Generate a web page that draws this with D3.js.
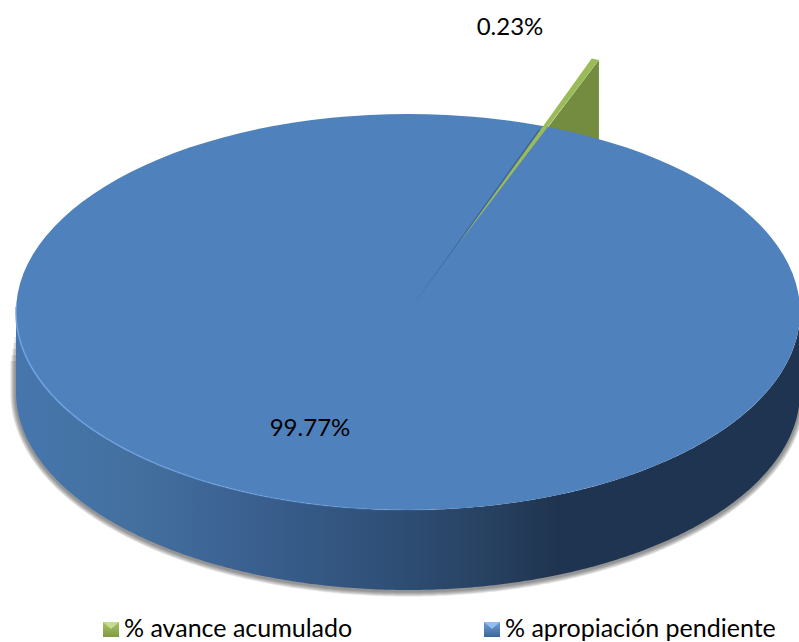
<!DOCTYPE html>
<html>
<head>
<meta charset="utf-8">
<style>
  html, body { margin: 0; padding: 0; background: #fff; }
  text { font-family: "Lato", "Open Sans", sans-serif; fill: #000; }
</style>
<script src="https://cdnjs.cloudflare.com/ajax/libs/d3/7.8.5/d3.min.js"></script>
</head>
<body>
<div id="chart"></div>
<script>
var categories = ["% avance acumulado", "% apropiación pendiente"];
var values = [0.23, 99.77];
var labels = ["0.23%", "99.77%"];

var width = 799, height = 642;
var cx = 408, cy = 312, rx = 392, tilt = 198 / 392, depth = 80;
// first slice starts here (radians clockwise from 12 o'clock)
var rotation = 0.351;
// the green slice sticks out past the rim in the original
var pull = 1.363;

var svg = d3.select("#chart").append("svg")
  .attr("width", width).attr("height", height)
  .style("display", "block");
var defs = svg.append("defs");

var pie = d3.pie().sort(null).startAngle(rotation).endAngle(rotation + 2 * Math.PI);
var slices = pie(values);
var green = slices[0];

function px(a, r) { return cx + r * Math.sin(a); }
function py(a, r) { return cy - r * tilt * Math.cos(a); }

// wall gradient, light on the left and dark on the right
var wallStops = [[0, "#4676ad"], [0.15, "#43709f"], [0.3, "#3a6090"], [0.49, "#2e4e75"], [0.62, "#263f5e"], [0.69, "#1f3450"], [1, "#1f3450"]];
var wallGrad = defs.append("linearGradient").attr("id", "wall")
  .attr("gradientUnits", "userSpaceOnUse")
  .attr("x1", cx - rx).attr("x2", cx + rx).attr("y1", 0).attr("y2", 0);
wallStops.forEach(function (s) {
  wallGrad.append("stop").attr("offset", s[0]).attr("stop-color", s[1]);
});

var rimGrad = defs.append("linearGradient").attr("id", "rim")
  .attr("gradientUnits", "userSpaceOnUse")
  .attr("x1", cx - rx).attr("x2", 480).attr("y1", 0).attr("y2", 0);
rimGrad.append("stop").attr("offset", 0).attr("stop-color", "#6fa5e3").attr("stop-opacity", 0.9);
rimGrad.append("stop").attr("offset", 1).attr("stop-color", "#6fa5e3").attr("stop-opacity", 0);

// legend key gradients
[["keyGreen", "#a9c46c", "#7f9a3e"], ["keyBlue", "#6f9fd8", "#3c6699"]].forEach(function (k) {
  var g = defs.append("linearGradient").attr("id", k[0])
    .attr("x1", 0).attr("x2", 0).attr("y1", 0).attr("y2", 1);
  g.append("stop").attr("offset", 0).attr("stop-color", k[1]);
  g.append("stop").attr("offset", 1).attr("stop-color", k[2]);
});

// round wall of the pie, front half only
var line = d3.line();
var front = d3.range(Math.PI / 2, 3 * Math.PI / 2 + 0.001, 0.01);
var wallPts = front.map(function (a) { return [px(a, rx), py(a, rx)]; })
  .concat(front.slice().reverse().map(function (a) { return [px(a, rx), py(a, rx) + depth]; }));
var lowerEdge = front.map(function (a) { return [px(a, rx), py(a, rx) + depth]; });

// soft grey shadow under the wall, stacked strokes; narrower ones run further up the left side
[11, 9, 7, 5, 3].forEach(function (w) {
  svg.append("path")
    .attr("d", line(lowerEdge.concat([[cx - rx, cy + 15 + w * 3]])))
    .attr("transform", "translate(0,1)")
    .attr("fill", "none")
    .attr("stroke", "#3c3c3c")
    .attr("stroke-opacity", 0.14)
    .attr("stroke-width", w);
});
svg.append("path")
  .attr("d", line(wallPts) + "Z")
  .attr("fill", "url(#wall)");

// green slice: cut face behind the blue top
var tipA = green.endAngle, tipR = rx * pull;
svg.append("path")
  .attr("d", line([
    [px(tipA, tipR), py(tipA, tipR)],
    [px(tipA, tipR), py(tipA, tipR) + depth],
    [cx, cy + depth],
    [cx, cy]
  ]) + "Z")
  .attr("fill", "#738c40");

// top face: whole disc first so the thin slice leaves no white gap
var arc = d3.arc().innerRadius(0).outerRadius(rx);
var topG = svg.append("g")
  .attr("transform", "translate(" + cx + "," + cy + ") scale(1," + tilt + ")");
topG.append("path").attr("d", arc({ startAngle: 0, endAngle: 2 * Math.PI })).attr("fill", "#4f81bd");

// dark cut edge where the blue slice opens
var edge = d3.arc().innerRadius(0).outerRadius(rx * 0.98)
  .startAngle(green.startAngle - 0.004).endAngle(green.startAngle + 0.003);
topG.append("path").attr("d", edge()).attr("fill", "#3f6797");

// top face of the green slice, narrows to nothing before the centre
var midA = (green.startAngle + green.endAngle) / 2;
svg.append("path")
  .attr("d", line([
    [px(midA, rx * 0.36), py(midA, rx * 0.36)],
    [px(green.startAngle, tipR), py(green.startAngle, tipR)],
    [px(green.endAngle, tipR), py(green.endAngle, tipR)]
  ]) + "Z")
  .attr("fill", "#9bbb59");

// light rim along the lower left edge
var rimA = d3.range(2.6, 4.75, 0.01);
svg.append("path")
  .attr("d", line(rimA.map(function (a) { return [px(a, rx), py(a, rx)]; })))
  .attr("fill", "none").attr("stroke", "url(#rim)").attr("stroke-width", 1.6);

// data labels
svg.append("text").attr("x", 510).attr("y", 35)
  .attr("text-anchor", "middle").attr("font-size", 24).text(labels[0]);
svg.append("text").attr("x", 310).attr("y", 436)
  .attr("text-anchor", "middle").attr("font-size", 24).text(labels[1]);

// legend
var legendX = [103, 484];
var keyTop = ["#c6dc8e", "#93bdee"];
var keys = svg.selectAll("g.key").data(categories).enter().append("g").attr("class", "key")
  .attr("transform", function (d, i) { return "translate(" + legendX[i] + ",622)"; });
keys.append("rect").attr("width", 16).attr("height", 15)
  .attr("fill", function (d, i) { return i === 0 ? "url(#keyGreen)" : "url(#keyBlue)"; });
// bevel on the top of each key
keys.append("path").attr("d", line([[0, 0], [16, 0], [8, 7]]) + "Z")
  .attr("fill", function (d, i) { return keyTop[i]; });
keys.append("text").attr("x", 21).attr("y", 15).attr("font-size", 25)
  .text(function (d) { return d; });
</script>
</body>
</html>
